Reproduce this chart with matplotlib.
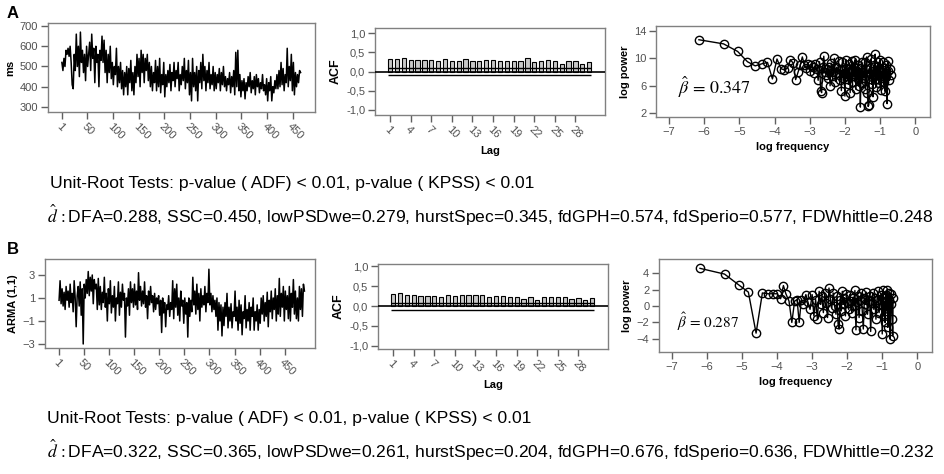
import matplotlib
matplotlib.use("Agg")
import matplotlib.pyplot as plt
import numpy as np

plt.rcParams['font.family'] = ['Liberation Sans', 'DejaVu Sans']
plt.rcParams['mathtext.fontset'] = 'stix'

# ---- data ----
# panel A: reaction times (ms), every 2nd trial
rt_ms = [float(v) for v in """
520 480 540 500 580 560 590 550 600 520
410 390 560 480 660 500 600 450 670 520
580 470 560 430 600 500 560 620 480 660
540 590 420 600 520 560 400 580 530 650
520 630 470 580 420 560 470 600 440 520
410 500 460 590 400 500 420 520 390 480
360 470 400 500 360 490 420 530 380 470
360 500 420 560 450 540 400 580 470 560
420 540 480 560 430 520 400 500 380 470
420 530 380 500 400 540 370 460 410 520
350 460 400 480 420 510 380 470 430 520
400 480 440 520 380 460 410 500 430 540
390 480 420 530 360 470 330 540 400 470
380 500 330 480 420 520 390 560 430 500
380 480 420 520 390 460 410 500 380 470
390 460 420 490 380 470 410 500 400 450
380 440 410 470 370 450 400 480 360 570
400 580 380 460 350 430 380 440 340 420
380 450 400 470 370 430 390 450 360 460
400 440 370 420 390 460 380 410 360 440
330 420 380 450 330 400 370 430 390 460
390 480 400 520 410 490 380 460 420 590
400 500 430 560 380 520 360 470 400 460
420 480 470
""".split()]

# panel B: ARMA(1,1) series, every 2nd point
arma = [float(v) for v in """
0.8 2.5 0.5 1.8 0.3 1.5 0.0 2.0 0.8 1.6
0.2 2.2 0.6 1.4 -0.2 2.5 1.0 -1.5 1.2 2.0
0.3 2.4 -0.5 1.8 -3.0 2.2 1.0 2.6 1.4 3.3
1.2 2.8 1.6 3.0 0.5 2.6 1.8 2.2 0.0 2.7
0.4 2.0 0.0 1.5 0.6 2.8 0.2 1.4 -1.0 1.8
0.5 2.5 -0.3 1.2 0.2 2.0 -1.0 1.0 0.5 2.4
-0.5 1.5 0.2 2.2 0.8 1.4 -2.4 1.0 0.3 1.8
-0.5 2.4 0.6 1.8 0.2 2.2 0.4 1.6 0.0 3.2
0.8 2.0 0.3 1.6 0.5 2.4 0.2 1.2 -0.8 1.6
0.4 2.0 0.6 1.2 -0.2 1.4 0.0 1.0 0.5 1.2
-0.5 0.8 -2.0 1.0 -0.3 0.6 -1.5 0.4 0.0 1.2
-0.6 0.6 0.0 2.5 -0.8 1.8 0.2 2.2 -0.5 1.0
-1.0 1.6 0.3 0.8 -1.2 1.0 -0.4 0.6 -2.4 1.0
-0.6 0.8 -0.2 2.8 0.4 1.6 -0.4 2.2 0.0 1.4
-1.0 1.8 0.2 1.2 0.4 2.0 -0.2 1.4 0.6 3.5
0.4 1.4 -0.2 1.2 0.0 0.8 -0.6 1.0 -1.8 0.6
-1.0 0.4 -2.3 0.2 -1.4 0.6 -0.6 1.4 -1.6 0.2
-1.0 0.5 -1.6 -0.2 -0.6 1.6 -1.0 0.2 -1.8 0.8
-1.2 0.4 -2.2 -0.2 -0.8 1.2 -1.6 0.0 -1.0 0.6
-1.8 0.2 -0.6 1.0 -1.8 -0.2 -1.0 0.4 -1.8 0.0
-1.2 1.0 -0.4 1.2 -1.0 0.6 -0.6 1.5 -1.5 0.8
-0.2 1.6 -0.8 1.0 0.0 1.8 -1.0 1.2 -0.4 2.7
-0.6 1.4 0.2 2.0 -1.0 1.6 0.0 1.2 -0.8 2.0
-1.0 1.4 0.2 2.6 -0.4 1.6 -0.8 1.0 -1.0 2.0
0.0 1.8 -0.6 2.2 1.6
""".split()]

acf_lags = list(range(1, 31))
acf_a = [0.33, 0.33, 0.35, 0.30, 0.30, 0.30, 0.29, 0.28, 0.32, 0.27,
         0.28, 0.33, 0.28, 0.26, 0.30, 0.31, 0.28, 0.27, 0.27, 0.27,
         0.34, 0.24, 0.27, 0.29, 0.28, 0.20, 0.28, 0.27, 0.20, 0.25]
acf_b = [0.30, 0.32, 0.27, 0.27, 0.26, 0.26, 0.26, 0.22, 0.29, 0.25,
         0.27, 0.28, 0.27, 0.27, 0.22, 0.26, 0.25, 0.22, 0.22, 0.18,
         0.22, 0.15, 0.23, 0.23, 0.23, 0.23, 0.18, 0.20, 0.16, 0.21]
acf_conf = 0.09

# periodogram (log frequency, log power)
spec_a = """
-6.15 12.7 -5.45 12.1 -5.05 11.0 -4.77 9.5 -4.55 8.9 -4.36 9.2 -4.20 9.4
-4.06 7.0 -3.93 9.9 -3.82 8.5 -3.72 8.3 -3.63 8.6 -3.55 9.8 -3.47 9.3
-3.40 6.9 -3.33 8.0 -3.27 9.0 -3.21 10.2
-3.15 9.0 -3.10 8.6 -3.05 9.2 -3.00 8.2 -2.96 9.0 -2.92 8.8 -2.88 7.8
-2.84 9.1 -2.80 8.4 -2.76 6.8 -2.72 9.5 -2.69 5.3 -2.66 5.0 -2.63 8.8
-2.60 10.3 -2.57 8.0 -2.54 7.6 -2.51 8.5 -2.48 7.2 -2.45 8.8 -2.42 6.0
-2.39 9.3 -2.36 7.4 -2.33 8.0 -2.30 10.0 -2.27 6.6 -2.24 8.7 -2.21 7.8
-2.18 9.6 -2.15 6.9 -2.12 8.3 -2.10 5.3 -2.07 9.4 -2.05 7.2 -2.02 8.4
-2.00 4.5 -1.97 9.8 -1.95 7.0 -1.92 8.5 -1.90 6.2 -1.87 9.2 -1.85 5.0
-1.82 8.0 -1.80 9.6 -1.78 6.5 -1.75 8.8 -1.73 7.4 -1.71 9.8 -1.69 5.5
-1.66 8.2 -1.64 7.0 -1.62 9.0 -1.60 6.0 -1.58 8.6 -1.56 2.9 -1.54 7.8
-1.52 9.4 -1.50 6.4 -1.48 8.0 -1.46 7.2 -1.44 9.5 -1.42 5.6 -1.40 8.4
-1.38 10.2 -1.36 5.0 -1.34 3.0 -1.32 3.2 -1.30 8.6 -1.28 7.0 -1.26 9.9
-1.24 6.2 -1.22 8.2 -1.20 4.4 -1.18 9.0 -1.16 7.4 -1.14 10.6 -1.12 5.8
-1.10 8.8 -1.08 7.0 -1.06 9.4 -1.04 6.4 -1.02 8.3 -1.00 9.8 -0.98 5.4
-0.96 8.0 -0.94 7.2 -0.92 9.4 -0.90 6.6 -0.88 8.6 -0.86 5.2 -0.84 9.0
-0.82 7.4 -0.80 3.4 -0.78 8.2 -0.76 9.6 -0.74 6.8 -0.72 8.4 -0.70 7.6
""".split()
spec_b = """
-6.20 4.6 -5.50 3.9 -5.10 2.6 -4.82 1.7 -4.60 -3.3 -4.42 1.6 -4.25 1.5
-4.12 1.5 -4.00 1.5 -3.90 0.9 -3.82 2.5 -3.75 1.5 -3.66 0.6 -3.58 -2.0
-3.50 0.6 -3.43 0.8 -3.37 -2.0 -3.31 0.7 -3.25 0.3 -3.18 1.4 -3.12 0.5
-3.06 -0.4 -3.00 1.4 -2.95 -1.2 -2.90 0.8 -2.85 -1.6
-2.80 1.8 -2.76 0.2 -2.72 1.2 -2.68 -0.8 -2.64 1.6 -2.60 0.4 -2.56 -1.4
-2.52 2.2 -2.48 0.9 -2.44 -0.2 -2.40 1.6 -2.36 0.0 -2.32 -1.0 -2.29 1.2
-2.26 -2.2 -2.23 -2.8 -2.20 0.8 -2.17 -0.6 -2.14 1.8 -2.11 0.2 -2.08 1.0
-2.05 -1.2 -2.02 1.5 -1.99 0.4 -1.96 -0.4 -1.93 1.4 -1.90 0.6 -1.87 -0.8
-1.84 1.0 -1.81 0.0 -1.78 1.9 -1.75 -2.9 -1.72 0.5 -1.69 1.2 -1.66 -1.4
-1.63 0.8 -1.60 1.6 -1.57 -0.6 -1.54 -2.8 -1.51 1.0 -1.48 0.2 -1.45 1.7
-1.42 -1.0 -1.39 0.6 -1.36 1.2 -1.33 -3.1 -1.30 0.4 -1.27 1.6 -1.24 -0.4
-1.21 1.0 -1.18 -1.6 -1.15 0.8 -1.12 1.8 -1.09 -0.8 -1.06 0.3 -1.03 1.4
-1.00 -3.4 -0.98 1.9 -0.96 -1.2 -0.94 0.6 -0.92 -2.0 -0.90 1.4 -0.88 -0.6
-0.86 2.0 -0.84 -2.6 -0.82 0.8 -0.80 1.6 -0.78 -4.0 -0.76 0.2 -0.74 1.5
-0.72 -1.6 -0.70 -3.6 -0.69 1.0
""".split()
spec_a = np.array(spec_a, dtype=float).reshape(-1, 2)
spec_b = np.array(spec_b, dtype=float).reshape(-1, 2)

beta_a = 0.347
beta_b = 0.287

unit_root = "Unit-Root Tests: p-value ( ADF) < 0.01, p-value ( KPSS) < 0.01"
d_hat_a = r"$\hat{d}\,:$" + "DFA=0.288, SSC=0.450, lowPSDwe=0.279, hurstSpec=0.345, fdGPH=0.574, fdSperio=0.577, FDWhittle=0.248"
d_hat_b = r"$\hat{d}\,:$" + "DFA=0.322, SSC=0.365, lowPSDwe=0.261, hurstSpec=0.204, fdGPH=0.676, fdSperio=0.636, FDWhittle=0.232"

ts_ticks = [1, 50, 100, 150, 200, 250, 300, 350, 400, 450]
lag_ticks = [1, 4, 7, 10, 13, 16, 19, 22, 25, 28]

W, H = 945, 474
fig = plt.figure(figsize=(W / 100, H / 100), dpi=100)


def box(px):
    x0, y0, x1, y1 = px
    return [x0 / W, 1 - y1 / H, (x1 - x0) / W, (y1 - y0) / H]


def style(ax):
    for s in ax.spines.values():
        s.set_color('#808080')
        s.set_linewidth(1.0)
    ax.tick_params(direction='out', length=5, width=1, color='#606060',
                   labelcolor='#505050', labelsize=8, pad=2)


def rot_labels(ax, ticks):
    ax.set_xticks(ticks)
    ax.set_xticklabels([str(t) for t in ticks], rotation=-45,
                       ha='left', va='top', rotation_mode='anchor')


def time_panel(px, y, ylim, yticks, xlim, ylabel):
    ax = fig.add_axes(box(px))
    x = np.arange(1, 2 * len(y), 2)
    ax.plot(x, y, color='black', lw=1.1)
    ax.set_xlim(*xlim)
    ax.set_ylim(*ylim)
    ax.set_yticks(yticks)
    rot_labels(ax, ts_ticks)
    style(ax)
    ax.set_ylabel(ylabel, fontsize=8, fontweight='bold', labelpad=3)
    return ax


def acf_panel(px, vals, ylim):
    ax = fig.add_axes(box(px))
    ax.bar(acf_lags, vals, width=0.62, color='#c8c8c8', edgecolor='black',
           linewidth=0.8, zorder=2)
    ax.axhline(0, color='black', lw=1.2, zorder=3)
    ax.hlines([acf_conf, -acf_conf], acf_lags[0] - 0.3, acf_lags[-1] + 0.3,
              color='black', lw=1.0, zorder=3)
    ax.set_xlim(-1.2, 32.3)
    ax.set_ylim(*ylim)
    ax.set_yticks([1.0, 0.5, 0.0, -0.5, -1.0])
    ax.set_yticklabels(['1,0', '0,5', '0,0', '-0,5', '-1,0'])
    rot_labels(ax, lag_ticks)
    style(ax)
    ax.set_ylabel('ACF', fontsize=9, fontweight='bold', labelpad=3)
    ax.set_xlabel('Lag', fontsize=8, fontweight='bold', labelpad=4)
    return ax


def spec_panel(px, pts, ylim, yticks, beta, bx, by, bsize):
    ax = fig.add_axes(box(px))
    ax.plot(pts[:, 0], pts[:, 1], '-o', color='black', lw=1.0, ms=6,
            mfc='none', mew=1.0)
    ax.set_xlim(-7.37, 0.42)
    ax.set_ylim(*ylim)
    ax.set_yticks(yticks)
    ax.set_xticks(range(-7, 1))
    style(ax)
    ax.set_ylabel('log power', fontsize=8, fontweight='bold', labelpad=3)
    ax.set_xlabel('log frequency', fontsize=8, fontweight='bold', labelpad=4)
    ax.text(bx, by, r'$\hat{\beta}$' + ' = ' + f'{beta:.3f}',
            fontsize=bsize, family='STIXGeneral', va='center')
    return ax


# panel A
time_panel((48, 23, 315, 112), rt_ms, (275, 715), [300, 400, 500, 600, 700],
           (-26, 493), 'ms')
acf_panel((375, 28, 605, 115), acf_a, (-1.13, 1.13))
spec_panel((656, 26, 930, 117), spec_a, (1.46, 14.7), [2, 6, 10, 14],
           beta_a, -6.75, 5.8, 13)

# panel B
time_panel((45, 259, 315, 348), arma, (-3.35, 4.39), [-3, -1, 1, 3],
           (-27, 510), 'ARMA (1,1)')
acf_panel((378, 264, 608, 349), acf_b, (-1.08, 1.06))
spec_panel((659, 259, 932, 352), spec_b, (-5.6, 5.74), [-4, -2, 0, 2, 4],
           beta_b, -6.85, -1.9, 11)

fig.text(7 / W, 1 - 13 / H, 'A', fontsize=12, fontweight='bold', va='center')
fig.text(7 / W, 1 - 250 / H, 'B', fontsize=12, fontweight='bold', va='center')

fig.text(50 / W, 1 - 184 / H, unit_root, fontsize=12.6, va='center')
fig.text(47 / W, 1 - 215 / H, d_hat_a, fontsize=12.6, va='center')
fig.text(47 / W, 1 - 419 / H, unit_root, fontsize=12.6, va='center')
fig.text(47 / W, 1 - 450 / H, d_hat_b, fontsize=12.6, va='center')

fig.savefig('out.png', dpi=100)
